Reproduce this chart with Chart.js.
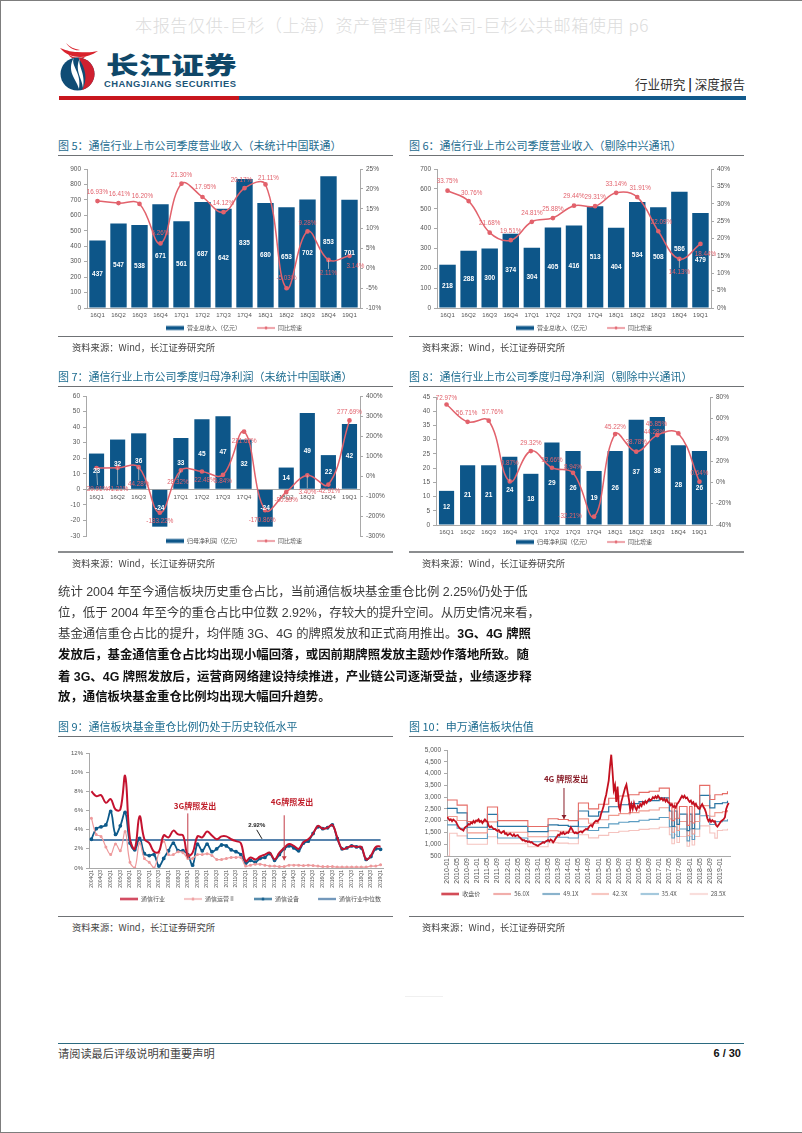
<!DOCTYPE html>
<html lang="zh">
<head>
<meta charset="utf-8">
<title>行业研究 深度报告 p6</title>
<script src="https://cdn.jsdelivr.net/npm/chart.js@4/dist/chart.umd.min.js"></script>
<style>
  html, body { margin: 0; padding: 0; background: #fff; }
  #page { position: relative; width: 802px; height: 1133px; overflow: hidden; font-family: "Noto Sans CJK SC", "Liberation Sans", sans-serif; }
  #page > * { position: absolute; }
  canvas { display: block; }
  .title { font-size: 11px; line-height: 14px; color: #1d6c90; white-space: nowrap; }
  .rule { height: 1px; background: #6f7275; }
  .rule2 { height: 2px; background: #8b8d8f; }
  .src { font-size: 9.3px; line-height: 14px; color: #444; white-space: nowrap; }
  .para { left: 58px; width: 457px; height: 21px; font-size: 12.4px; line-height: 21px; color: #3a3a3a; white-space: nowrap; text-align: justify; text-align-last: justify; font-family: "Liberation Sans", "Noto Sans CJK SC", sans-serif; }
  .para.end { text-align-last: left; }
  .para b { color: #111; }
</style>
</head>
<body>
<div id="page">
  <div style="left:0;top:0;width:802px;height:1px;background:#7d7d7d"></div>
  <div style="left:0;top:0;width:1px;height:1133px;background:#7d7d7d"></div>
  <div style="left:0;top:1132px;width:802px;height:1px;background:#7d7d7d"></div>

  <div style="left:135px;top:14px;width:516px;font-size:17.2px;line-height:22px;color:#dcdcdc;white-space:nowrap;font-weight:300;letter-spacing:0.47px">本报告仅供-巨杉（上海）资产管理有限公司-巨杉公共邮箱使用 p6</div>

  <svg style="left:58px;top:42px" width="42" height="50" viewBox="0 0 42 50">
    <path d="M2 6 C10 9 14 10 19 10 C26 10 32 11 40 9 C34 13 28 15 22 15 C14 15 7 12 2 6Z" fill="#d9232d"/>
    <path d="M8 1 C12 5 16 7 22 8 C18 9 12 7 8 1Z" fill="#d9232d"/>
    <path d="M10 12 C14 16 22 17 28 14 C24 19 14 19 10 12Z" fill="#d9232d"/>
    <ellipse cx="19.5" cy="32" rx="17" ry="16.5" fill="#0f4c75"/>
    <path d="M20 15.5 C31 16 36.5 24 36.5 32 C36.5 40 31 46 24 48 C30 38 28 26 20 15.5Z" fill="#cf2030"/>
    <path d="M16 15 C12 24 24 30 21 47 C18 36 8 30 16 15Z" fill="#fff"/>
    <path d="M22 16 C19 24 28 30 25 46 C24 36 16 28 22 16Z" fill="#fff"/>
  </svg>
  <div style="left:106px;top:50px;font-size:24px;line-height:28px;font-weight:900;color:#0f4768;white-space:nowrap;transform:scaleX(1.36);transform-origin:left top;font-family:'Noto Sans CJK SC'">长江证券</div>
  <div style="left:104px;top:79px;width:134px;font-size:9.4px;line-height:9px;font-weight:700;color:#1c5578;white-space:nowrap;letter-spacing:0.5px;font-family:'Liberation Sans'">CHANGJIANG SECURITIES</div>
  <div style="left:635px;top:75px;font-size:12.6px;line-height:18px;color:#333;white-space:nowrap">行业研究 <span style="font-weight:700;color:#111">|</span> 深度报告</div>
  <div style="left:59px;top:96px;width:180px;height:4px;background:#c8161d"></div>
  <div style="left:239px;top:96px;width:507px;height:4px;background:#125a8c"></div>

  <!-- ── Figure 5 / 6 ── -->
  <div class="title" style="left:58px;top:138px">图 5：通信行业上市公司季度营业收入（未统计中国联通）</div>
  <div class="rule" style="left:58px;top:155px;width:335px"></div>
  <canvas id="chart-5" style="left:52px;top:161px"></canvas>
  <div class="rule" style="left:58px;top:336px;width:335px"></div>
  <div class="src" style="left:72px;top:340px">资料来源：Wind，长江证券研究所</div>

  <div class="title" style="left:409px;top:138px">图 6：通信行业上市公司季度营业收入（剔除中兴通讯）</div>
  <div class="rule" style="left:409px;top:155px;width:335px"></div>
  <canvas id="chart-6" style="left:410px;top:161px"></canvas>
  <div class="rule" style="left:409px;top:336px;width:335px"></div>
  <div class="src" style="left:422px;top:340px">资料来源：Wind，长江证券研究所</div>

  <!-- ── Figure 7 / 8 ── -->
  <div class="title" style="left:58px;top:369px">图 7：通信行业上市公司季度归母净利润（未统计中国联通）</div>
  <div class="rule" style="left:58px;top:386px;width:335px"></div>
  <canvas id="chart-7" style="left:52px;top:388px"></canvas>
  <div class="rule2" style="left:58px;top:551px;width:335px"></div>
  <div class="src" style="left:72px;top:556px">资料来源：Wind，长江证券研究所</div>

  <div class="title" style="left:409px;top:369px">图 8：通信行业上市公司季度归母净利润（剔除中兴通讯）</div>
  <div class="rule" style="left:409px;top:386px;width:335px"></div>
  <canvas id="chart-8" style="left:410px;top:389px"></canvas>
  <div class="rule2" style="left:409px;top:551px;width:335px"></div>
  <div class="src" style="left:422px;top:556px">资料来源：Wind，长江证券研究所</div>

  <!-- ── Texte ── -->
  <div class="para" style="top:582px">统计 2004 年至今通信板块历史重仓占比，当前通信板块基金重仓比例 2.25%仍处于低</div>
  <div class="para" style="top:603px">位，低于 2004 年至今的重仓占比中位数 2.92%，存较大的提升空间。从历史情况来看，</div>
  <div class="para" style="top:624px">基金通信重仓占比的提升，均伴随 3G、4G 的牌照发放和正式商用推出。<b>3G、4G 牌照</b></div>
  <div class="para" style="top:645px"><b>发放后，基金通信重仓占比均出现小幅回落，或因前期牌照发放主题炒作落地所致。随</b></div>
  <div class="para" style="top:667px"><b>着 3G、4G 牌照发放后，运营商网络建设持续推进，产业链公司逐渐受益，业绩逐步释</b></div>
  <div class="para end" style="top:687px"><b>放，通信板块基金重仓比例均出现大幅回升趋势。</b></div>

  <!-- ── Figure 9 / 10 ── -->
  <div class="title" style="left:58px;top:719px">图 9：通信板块基金重仓比例仍处于历史较低水平</div>
  <div class="rule" style="left:58px;top:736px;width:335px"></div>
  <canvas id="chart-9" style="left:62px;top:745px"></canvas>
  <div class="rule" style="left:58px;top:916px;width:335px"></div>
  <div class="src" style="left:72px;top:920px">资料来源：Wind，长江证券研究所</div>

  <div class="title" style="left:409px;top:719px">图 10：申万通信板块估值</div>
  <div class="rule" style="left:409px;top:736px;width:335px"></div>
  <canvas id="chart-10" style="left:410px;top:742px"></canvas>
  <div class="rule" style="left:409px;top:916px;width:335px"></div>
  <div class="src" style="left:422px;top:920px">资料来源：Wind，长江证券研究所</div>

  <!-- ── Pied de page ── -->
  <div style="left:405px;top:996px;width:38px;height:1px;background:#f0f0f0"></div>
  <div style="left:58px;top:1043px;width:686px;height:1px;background:#2b6a80"></div>
  <div style="left:58px;top:1046px;font-size:11.2px;line-height:15px;color:#444;white-space:nowrap">请阅读最后评级说明和重要声明</div>
  <div style="left:700px;top:1046px;width:41px;text-align:right;font-size:11px;line-height:15px;font-weight:700;color:#111;white-space:nowrap;font-family:'Liberation Sans'">6 / 30</div>
</div>

<script>
// ── Données ───────────────────────────────────────────────────────────
const quarters = ['16Q1', '16Q2', '16Q3', '16Q4', '17Q1', '17Q2', '17Q3', '17Q4', '18Q1', '18Q2', '18Q3', '18Q4', '19Q1']

const revenue5 = [437, 547, 538, 671, 561, 687, 642, 835, 680, 653, 702, 853, 701]
const growth5  = [16.93, 16.41, 16.20, 6.26, 21.30, 17.95, 14.12, 20.17, 21.11, -5.03, 9.28, 2.11, 3.14]

const revenue6 = [218, 288, 300, 374, 304, 405, 416, 513, 404, 534, 508, 586, 479]
const growth6  = [33.75, 30.76, 21.68, 19.51, 24.81, 25.88, 29.44, 29.31, 33.14, 31.91, 22.09, 14.13, 18.44]

const profit7 = [23, 32, 36, -24, 33, 45, 47, 32, -24, 14, 49, 22, 42]
const growth7 = [39.91, 41.21, 44.28, -183.22, 28.32, 22.48, 5.84, 221.62, -170.86, -80.89, 3.40, -42.91, 277.69]

const profit8 = [12, 21, 21, 24, 18, 29, 26, 19, 26, 37, 38, 28, 26]
const growth8 = [72.97, 56.71, 57.76, 0.87, 29.32, 13.66, 8.94, -32.21, 45.22, 28.78, 44.28, 45.85, 0.64]

// Figure 9, 2004Q1 → 2019Q1
const holdQuarters = [
    '2004Q1', '2004Q2', '2004Q3', '2004Q4', '2005Q1', '2005Q2', '2005Q3', '2005Q4',
    '2006Q1', '2006Q2', '2006Q3', '2006Q4', '2007Q1', '2007Q2', '2007Q3', '2007Q4',
    '2008Q1', '2008Q2', '2008Q3', '2008Q4', '2009Q1', '2009Q2', '2009Q3', '2009Q4',
    '2010Q1', '2010Q2', '2010Q3', '2010Q4', '2011Q1', '2011Q2', '2011Q3', '2011Q4',
    '2012Q1', '2012Q2', '2012Q3', '2012Q4', '2013Q1', '2013Q2', '2013Q3', '2013Q4',
    '2014Q1', '2014Q2', '2014Q3', '2014Q4', '2015Q1', '2015Q2', '2015Q3', '2015Q4',
    '2016Q1', '2016Q2', '2016Q3', '2016Q4', '2017Q1', '2017Q2', '2017Q3', '2017Q4',
    '2018Q1', '2018Q2', '2018Q3', '2018Q4', '2019Q1',
]
const holdIndustry = [
    8.0, 7.5, 7.6, 6.8, 7.2, 6.1, 6.1, 9.6,
    3.0, 2.0, 5.4, 3.0, 2.6, 1.7, 1.7, 3.4,
    3.2, 3.9, 3.5, 3.4, 1.3, 1.6, 3.3, 3.2,
    3.8, 3.4, 3.0, 3.3, 3.3, 3.0, 2.8, 2.6,
    0.7, 1.1, 0.9, 1.2, 1.4, 1.6, 0.9, 1.6,
    2.1, 2.5, 2.3, 2.0, 2.7, 3.0, 3.6, 4.4,
    4.1, 4.2, 4.5, 3.2, 2.0, 2.1, 2.3, 2.2,
    2.2, 0.9, 1.3, 2.2, 2.25,
]
const holdOperator = [
    5.2, 3.5, 3.3, 2.2, 1.4, 2.5, 1.8, 3.8,
    0.6, 0.0, 2.6, 1.0, 0.6, 0.0, 1.6, 2.8,
    1.4, 1.4, 1.7, 1.6, 1.0, 1.0, 1.4, 1.4,
    1.5, 1.3, 0.9, 0.9, 1.0, 1.1, 1.1, 1.1,
    0.2, 0.3, 0.4, 0.4, 0.3, 0.2, 0.2, 0.15,
    0.15, 0.3, 0.3, 0.3, 0.25, 0.3, 0.25, 0.2,
    0.15, 0.15, 0.15, 0.1, 0.1, 0.1, 0.1, 0.1,
    0.1, 0.1, 0.2, 0.2, 0.35,
]
const holdDevice = [
    3.0, 4.1, 4.3, 4.5, 5.9, 3.5, 4.4, 5.8,
    2.6, 1.9, 3.1, 1.5, 1.3, 1.4, 0.2, 1.0,
    1.8, 2.6, 1.8, 1.8, 1.4, 0.3, 2.5, 1.8,
    2.5, 1.7, 2.0, 2.4, 2.3, 1.9, 1.7, 1.4,
    0.5, 0.8, 0.6, 1.0, 1.1, 1.5, 0.8, 1.4,
    2.0, 2.3, 2.1, 1.8, 2.6, 2.8, 3.6, 4.3,
    4.1, 4.2, 4.5, 3.1, 2.0, 2.1, 2.3, 2.2,
    2.1, 0.9, 1.2, 2.0, 1.95,
]
const holdMedian = holdQuarters.map(() => 2.92)

// Figure 10, une ligne = 4 mois. Cours : 2 points par mois, bandes PE : 1 point par mois
const valTicks = [
    '2010-01', '2010-05', '2010-09', '2011-01', '2011-05', '2011-09', '2012-01',
    '2012-05', '2012-09', '2013-01', '2013-05', '2013-09', '2014-01', '2014-05',
    '2014-09', '2015-01', '2015-05', '2015-09', '2016-01', '2016-05', '2016-09',
    '2017-01', '2017-05', '2017-09', '2018-01', '2018-05', '2018-09', '2019-01',
]
const valClose = [
    2150, 2100, 2020, 2060, 1980, 2050, 2000, 1960,
    1850, 1750, 1680, 1640, 1620, 1580, 1700, 1740,
    1780, 1850, 1830, 1920, 1880, 1990, 1920, 2010,
    2000, 2060, 1950, 1990, 1900, 1980, 2050, 1990,
    1950, 1780, 1720, 1760, 1700, 1640, 1650, 1590,
    1560, 1600, 1510, 1470, 1530, 1560, 1440, 1460,
    1380, 1420, 1460, 1400, 1350, 1420, 1340, 1370,
    1390, 1310, 1280, 1210, 1160, 1180, 1120, 1140,
    1100, 1120, 1070, 1090, 1040, 1000, 980, 950,
    930, 980, 1010, 1040, 1090, 1060, 1120, 1140,
    1180, 1120, 1200, 1160, 1080, 1150, 1250, 1320,
    1400, 1370, 1490, 1440, 1510, 1430, 1460, 1500,
    1480, 1600, 1720, 1640, 1520, 1470, 1500, 1460,
    1490, 1530, 1550, 1500, 1560, 1600, 1650, 1620,
    1700, 1780, 1820, 1750, 1880, 1950, 2000, 1960,
    2030, 2080, 2300, 2450, 2620, 2900, 3100, 3400,
    3700, 4300, 4800, 4100, 3300, 3500, 2800, 3450,
    2600, 2450, 2800, 3000, 3200, 3400, 3530, 3200,
    2900, 2450, 2700, 2500, 2750, 2550, 2450, 2620,
    2550, 2700, 2620, 2780, 2700, 2830, 2750, 2850,
    2920, 2850, 2900, 3000, 2950, 3030, 2960, 3060,
    2980, 2900, 2950, 2860, 2930, 2820, 2900, 2780,
    2750, 2650, 2700, 2580, 2620, 2550, 2700, 2760,
    2850, 2950, 3050, 2980, 3060, 2950, 2980, 2880,
    2800, 2850, 2720, 2780, 2650, 2720, 2600, 2520,
    2500, 2620, 2700, 2580, 2500, 2350, 2100, 1980,
    2050, 1950, 2020, 1960, 1980, 1800, 1750, 1820,
    1900, 1980, 2020, 2060, 2150, 2500, 2650, 2750,
]
const valPe560 = [
    2880, 2880, 2880, 2880, 2660, 2660, 2660, 2660, 1960, 1960, 1960, 1960, 1960, 1960, 1960, 1960,
    2580, 2580, 2580, 2580, 2000, 2000, 2000, 2000, 2000, 2000, 2000, 2000, 2000, 2000, 2000, 2000,
    1750, 1750, 1750, 1750, 1750, 1750, 1750, 1750, 2080, 2080, 2080, 2080, 2050, 2050, 2050, 2050,
    2000, 2000, 2000, 2000, 2750, 2750, 2750, 2750, 2500, 2500, 2500, 2500, 2700, 2700, 2700, 2700,
    2950, 2950, 2950, 2950, 3050, 3050, 3050, 3050, 3100, 3100, 3100, 3100, 3200, 3200, 3200, 3200,
    3250, 3250, 3250, 3250, 3380, 3380, 3380, 3380, 2750, 2000, 2750, 2100, 2600, 2600, 2600, 1800,
    2600, 1900, 2600, 2600, 3500, 3500, 3500, 3500, 2900, 2900, 3100, 3100, 3100, 3150, 3150, 3250,
]
const valPe491 = [
    2525, 2525, 2525, 2525, 2335, 2335, 2335, 2335, 1720, 1720, 1720, 1720, 1720, 1720, 1720, 1720,
    2265, 2265, 2265, 2265, 1755, 1755, 1755, 1755, 1755, 1755, 1755, 1755, 1755, 1755, 1755, 1755,
    1535, 1535, 1535, 1535, 1535, 1535, 1535, 1535, 1825, 1825, 1825, 1825, 1800, 1800, 1800, 1800,
    1755, 1755, 1755, 1755, 2410, 2410, 2410, 2410, 2190, 2190, 2190, 2190, 2370, 2370, 2370, 2370,
    2590, 2590, 2590, 2590, 2675, 2675, 2675, 2675, 2720, 2720, 2720, 2720, 2805, 2805, 2805, 2805,
    2850, 2850, 2850, 2850, 2965, 2965, 2965, 2965, 2410, 1755, 2410, 1840, 2280, 2280, 2280, 1580,
    2280, 1665, 2280, 2280, 3070, 3070, 3070, 3070, 2545, 2545, 2720, 2720, 2720, 2760, 2760, 2850,
]
const valPe423 = [
    2175, 2175, 2175, 2175, 2010, 2010, 2010, 2010, 1480, 1480, 1480, 1480, 1480, 1480, 1480, 1480,
    1950, 1950, 1950, 1950, 1510, 1510, 1510, 1510, 1510, 1510, 1510, 1510, 1510, 1510, 1510, 1510,
    1320, 1320, 1320, 1320, 1320, 1320, 1320, 1320, 1570, 1570, 1570, 1570, 1550, 1550, 1550, 1550,
    1510, 1510, 1510, 1510, 2075, 2075, 2075, 2075, 1890, 1890, 1890, 1890, 2040, 2040, 2040, 2040,
    2225, 2225, 2225, 2225, 2300, 2300, 2300, 2300, 2340, 2340, 2340, 2340, 2415, 2415, 2415, 2415,
    2455, 2455, 2455, 2455, 2550, 2550, 2550, 2550, 2075, 1510, 2075, 1585, 1965, 1965, 1965, 1360,
    1965, 1435, 1965, 1965, 2640, 2640, 2640, 2640, 2190, 2190, 2340, 2340, 2340, 2380, 2380, 2455,
]
const valPe354 = [
    1820, 1820, 1820, 1820, 1680, 1680, 1680, 1680, 1240, 1240, 1240, 1240, 1240, 1240, 1240, 1240,
    1630, 1630, 1630, 1630, 1265, 1265, 1265, 1265, 1265, 1265, 1265, 1265, 1265, 1265, 1265, 1265,
    1105, 1105, 1105, 1105, 1105, 1105, 1105, 1105, 1315, 1315, 1315, 1315, 1295, 1295, 1295, 1295,
    1265, 1265, 1265, 1265, 1740, 1740, 1740, 1740, 1580, 1580, 1580, 1580, 1705, 1705, 1705, 1705,
    1865, 1865, 1865, 1865, 1930, 1930, 1930, 1930, 1960, 1960, 1960, 1960, 2020, 2020, 2020, 2020,
    2055, 2055, 2055, 2055, 2135, 2135, 2135, 2135, 1740, 1265, 1740, 1330, 1645, 1645, 1645, 1140,
    1645, 1200, 1645, 1645, 2210, 2210, 2210, 2210, 1835, 1835, 1960, 1960, 1960, 1990, 1990, 2055,
]
const valPe285 = [
    500, 1465, 1465, 1465, 1355, 1355, 1355, 1355, 1000, 1000, 1000, 1000, 1000, 1000, 1000, 1000,
    1315, 1315, 1315, 1315, 1020, 1020, 1020, 1020, 1020, 1020, 1020, 1020, 1020, 1020, 1020, 1020,
    890, 890, 890, 890, 890, 890, 890, 890, 1060, 1060, 1060, 1060, 1045, 1045, 1045, 1045,
    1020, 1020, 1020, 1020, 1400, 1400, 1400, 1400, 1270, 1270, 1270, 1270, 1375, 1375, 1375, 1375,
    1500, 1500, 1500, 1500, 1550, 1550, 1550, 1550, 1580, 1580, 1580, 1580, 1630, 1630, 1630, 1630,
    1655, 1655, 1655, 1655, 1720, 1720, 1720, 1720, 1400, 1020, 1400, 1070, 1325, 1325, 1325, 915,
    1325, 965, 1325, 1325, 1780, 1780, 1780, 1780, 1475, 1475, 1260, 1580, 1580, 1605, 1605, 1655,
]

// Décalage des étiquettes de croissance par rapport au point [dx, dy]
const shift5 = [[0, -9], [1, -9], [3, -8], [0, -10], [0, -8], [3, -10], [0, -9], [-3, -8], [3, -6], [0, -10], [0, -8], [0, 13], [6, 10]]
const shift6 = [[0, -9], [3, -8], [0, -9], [0, -9], [0, -9], [0, -9], [0, -9], [0, -9], [0, -9], [3, -9], [3, -9], [0, 13], [5, 10]]
const shift7 = [[1, 21], [0, 21], [0, 17], [0, 9], [-3, 12], [3, 9], [0, 6], [0, 10], [-3, 10], [0, 8], [0, 17], [0, 7], [0, -8]]
const shift8 = [[0, -6], [-1, -9], [4, -8], [0, -18], [0, -8], [0, -8], [0, -6], [-24, 0], [0, -7], [0, -9], [-3, -3], [-22, -9], [0, -8]]

// ── Couleurs communes ─────────────────────────────────────────────────
const blue     = '#0d5689'
const lineRed  = '#e2626c'
const axisGrey = '#a9a9a9'
const tick     = { color: '#555', font: { family: 'Liberation Sans', size: 6.5 }, padding: 3 }
const xTick    = { color: '#555', font: { family: 'Liberation Sans', size: 6 }, padding: 4 }
const cjkFont  = { family: 'Noto Sans CJK SC', size: 6, lineHeight: 1.667 }

Chart.defaults.animation = false
Chart.defaults.responsive = false
Chart.defaults.devicePixelRatio = 1

// Icône de légende : un blanc à gauche sert d'espace entre les items
function legendIcon(kind, color, gap, lw, dot) {
    const c = document.createElement('canvas')
    c.width = 18 + gap
    c.height = 7
    const g = c.getContext('2d')
    if (kind === 'bar') {
        g.fillStyle = color
        g.fillRect(gap, 1.5, 18, 4)
    } else {
        g.strokeStyle = color
        g.lineWidth = lw
        g.beginPath()
        g.moveTo(gap, 3.5)
        g.lineTo(gap + 18, 3.5)
        g.stroke()
        if (dot) {
            g.fillStyle = color
            g.beginPath()
            g.arc(gap + 9, 3.5, dot, 0, Math.PI * 2)
            g.fill()
        }
    }
    return c
}

function legendOptions(icons, gap) {
    return {
        position: 'bottom',
        labels: {
            usePointStyle: true,
            pointStyleWidth: 18 + gap,
            padding: 2,
            color: '#555',
            font: cjkFont,
            generateLabels: (chart) => Chart.defaults.plugins.legend.labels.generateLabels(chart)
                .map((item, i) => ({ ...item, pointStyle: icons[i] })),
        },
    }
}

// Étiquettes : valeur des barres en blanc, croissance en rouge
const valueLabels = {
    id: 'valueLabels',
    afterDatasetsDraw(chart, args, opts) {
        if (!opts.shifts) return
        const ctx = chart.ctx
        const bars = chart.getDatasetMeta(1).data
        const points = chart.getDatasetMeta(0).data
        ctx.save()
        ctx.textAlign = 'center'
        ctx.textBaseline = 'middle'
        ctx.font = 'bold 6.5px "Liberation Sans"'
        ctx.fillStyle = '#fff'
        bars.forEach((bar, i) => {
            const v = chart.data.datasets[1].data[i]
            ctx.fillText(v, bar.x, (bar.y + bar.base) / 2)
        })
        ctx.font = '6.3px "Liberation Sans"'
        points.forEach((pt, i) => {
            const [dx, dy] = opts.shifts[i]
            if (Math.abs(dy) > 11) {
                ctx.strokeStyle = 'rgba(205,205,205,0.9)'
                ctx.lineWidth = 0.8
                ctx.beginPath()
                ctx.moveTo(pt.x, pt.y)
                ctx.lineTo(pt.x + dx, pt.y + dy - Math.sign(dy) * 4)
                ctx.stroke()
            }
            ctx.fillStyle = lineRed
            ctx.fillText(chart.data.datasets[0].data[i].toFixed(2) + '%', pt.x + dx, pt.y + dy)
        })
        ctx.restore()
    },
}

// Annotations (position en coordonnées de données)
const notes = {
    id: 'notes',
    afterDatasetsDraw(chart, args, opts) {
        const { x: sx, y: sy } = chart.scales
        const ctx = chart.ctx
        ctx.save()
        ;(opts.arrows || []).forEach(a => {
            const x = sx.getPixelForValue(a.x)
            const y1 = sy.getPixelForValue(a.from)
            const y2 = sy.getPixelForValue(a.to)
            ctx.strokeStyle = ctx.fillStyle = a.color
            ctx.lineWidth = 1
            ctx.beginPath()
            ctx.moveTo(x, y1)
            ctx.lineTo(x, y2)
            ctx.stroke()
            ctx.beginPath()
            ctx.moveTo(x - 2.5, y2 - 4)
            ctx.lineTo(x + 2.5, y2 - 4)
            ctx.lineTo(x, y2)
            ctx.fill()
        })
        ;(opts.segments || []).forEach(s => {
            ctx.strokeStyle = s.color
            ctx.lineWidth = 1
            ctx.beginPath()
            ctx.moveTo(sx.getPixelForValue(s.x1), sy.getPixelForValue(s.y1))
            ctx.lineTo(sx.getPixelForValue(s.x2), sy.getPixelForValue(s.y2))
            ctx.stroke()
        })
        ctx.textAlign = 'center'
        ctx.textBaseline = 'middle'
        ;(opts.texts || []).forEach(t => {
            ctx.font = t.font
            ctx.fillStyle = t.color
            ctx.fillText(t.text, sx.getPixelForValue(t.x), sy.getPixelForValue(t.y))
        })
        ctx.restore()
    },
}

const axisGrid = { display: true, drawOnChartArea: false, drawTicks: true, tickLength: 3, color: axisGrey }
const axisLine = { display: true, color: axisGrey }

// Axe vide à droite : réserve la marge sans décentrer la légende
const rightMargin = (width) => ({
    position: 'right',
    ticks: { display: false },
    grid: { display: false },
    border: { display: false },
    afterFit: (s) => { s.width = width },
})

// Barres + courbe de croissance (figures 5 à 8)
function barLineChart(id, g, a) {
    const el = document.getElementById(id)
    el.width = g.width
    el.height = g.height
    return new Chart(el, {
        plugins: [valueLabels],
        data: {
            labels: quarters,
            datasets: [
                {
                    type: 'line',
                    label: '同比增速',
                    data: a.growth,
                    yAxisID: 'y2',
                    borderColor: lineRed,
                    backgroundColor: lineRed,
                    borderWidth: 1.5,
                    pointRadius: 1.6,
                    tension: 0.4,
                    order: 1,
                },
                {
                    type: 'bar',
                    label: a.barLabel,
                    data: a.bars,
                    backgroundColor: blue,
                    barPercentage: g.barPct,
                    categoryPercentage: 1,
                    order: 2,
                },
            ],
        },
        options: {
            layout: { padding: { top: 8 } },
            plugins: {
                tooltip: { enabled: false },
                legend: {
                    ...legendOptions([legendIcon('line', lineRed, 14, 1.2, 1.4), legendIcon('bar', blue, 14)], 14),
                    reverse: true,
                },
                valueLabels: { shifts: a.shifts },
            },
            scales: {
                x: {
                    position: a.zeroAxis ? { y: 0 } : 'bottom',
                    z: 1,
                    ticks: { ...xTick, maxRotation: 0, autoSkip: false },
                    grid: { display: false, drawTicks: false },
                    border: axisLine,
                    afterFit: (s) => { if (!a.zeroAxis) s.height = g.xHeight },
                },
                y: {
                    min: a.y[0], max: a.y[1],
                    ticks: { ...tick, stepSize: a.y[2] },
                    grid: axisGrid,
                    border: axisLine,
                    afterFit: (s) => { s.width = g.left },
                },
                y2: {
                    position: 'right',
                    min: a.y2[0], max: a.y2[1],
                    ticks: { ...tick, stepSize: a.y2[2], callback: v => v + '%' },
                    grid: axisGrid,
                    border: axisLine,
                    afterFit: (s) => { s.width = g.right },
                },
            },
        },
    })
}

barLineChart('chart-5', { width: 350, height: 180, left: 35, right: 42, xHeight: 15, barPct: 0.78 },
    { growth: growth5, bars: revenue5, barLabel: '营业总收入（亿元）', shifts: shift5, y: [0, 900, 100], y2: [-10, 25, 5] })
barLineChart('chart-6', { width: 334, height: 180, left: 27, right: 33, xHeight: 15, barPct: 0.78 },
    { growth: growth6, bars: revenue6, barLabel: '营业总收入（亿元）', shifts: shift6, y: [0, 700, 100], y2: [0, 40, 5] })
barLineChart('chart-7', { width: 350, height: 166, left: 34, right: 42, barPct: 0.72 },
    { growth: growth7, bars: profit7, barLabel: '归母净利润（亿元）', shifts: shift7, y: [-30, 60, 10], y2: [-300, 400, 100], zeroAxis: true })
barLineChart('chart-8', { width: 334, height: 166, left: 26, right: 34, xHeight: 12, barPct: 0.72 },
    { growth: growth8, bars: profit8, barLabel: '归母净利润（亿元）', shifts: shift8, y: [0, 45, 5], y2: [-40, 80, 20] })

// ── Figure 9 ──────────────────────────────────────────────────────────
const el9 = document.getElementById('chart-9')
el9.width = 360
el9.height = 167
new Chart(el9, {
    type: 'line',
    plugins: [notes],
    data: {
        labels: holdQuarters,
        datasets: [
            { label: '通信行业', data: holdIndustry, borderColor: '#c4122f', backgroundColor: '#c4122f', borderWidth: 2, pointRadius: 0, tension: 0.4 },
            { label: '通信运营Ⅱ', data: holdOperator, borderColor: '#ee9a9c', backgroundColor: '#ee9a9c', borderWidth: 1.2, pointRadius: 0.9, tension: 0.4 },
            { label: '通信设备', data: holdDevice, borderColor: '#0d5a8a', backgroundColor: '#0d5a8a', borderWidth: 1.8, pointRadius: 1, tension: 0.4 },
            { label: '通信行业中位数', data: holdMedian, borderColor: '#1f5a92', backgroundColor: '#1f5a92', borderWidth: 1.5, pointRadius: 0 },
        ],
    },
    options: {
        layout: { padding: { top: 8 } },
        plugins: {
            tooltip: { enabled: false },
            legend: legendOptions([
                legendIcon('line', '#c4122f', 17, 2),
                legendIcon('line', '#ee9a9c', 17, 1.2, 1.5),
                legendIcon('line', '#0d5a8a', 17, 1.8, 1.6),
                legendIcon('line', '#1f5a92', 17, 1.5),
            ], 17),
            notes: {
                arrows: [
                    { x: 20, from: 5.7, to: 1.0, color: '#c23a46' },
                    { x: 40, from: 5.5, to: 0.8, color: '#c23a46' },
                ],
                segments: [{ x1: 34.3, y1: 3.98, x2: 35.4, y2: 3.04, color: '#222' }],
                texts: [
                    { x: 21.5, y: 6.45, text: '3G牌照发出', font: 'bold 8px "Noto Sans CJK SC"', color: '#c0202c' },
                    { x: 41.6, y: 6.9, text: '4G牌照发出', font: 'bold 8px "Noto Sans CJK SC"', color: '#c0202c' },
                    { x: 34.3, y: 4.5, text: '2.92%', font: 'bold 6px "Liberation Sans"', color: '#222' },
                ],
            },
        },
        scales: {
            x: {
                offset: true,
                ticks: {
                    color: '#555',
                    font: { family: 'Liberation Sans', size: 5 },
                    padding: 2,
                    autoSkip: false,
                    minRotation: 90,
                    maxRotation: 90,
                    callback(v, i) { return i % 2 === 0 ? this.getLabelForValue(v) : '' },
                },
                grid: { display: false, drawTicks: false },
                border: axisLine,
                afterFit: (s) => { s.height = 26 },
            },
            y: {
                min: 0, max: 12,
                ticks: { ...tick, stepSize: 2, font: { family: 'Liberation Sans', size: 6 }, callback: v => v + '%' },
                grid: axisGrid,
                border: axisLine,
                afterFit: (s) => { s.width = 27 },
            },
            pad: rightMargin(39),
        },
    },
})

// ── Figure 10 ─────────────────────────────────────────────────────────
const asMonths = (arr) => arr.map((y, i) => ({ x: i, y }))
const el10 = document.getElementById('chart-10')
el10.width = 336
el10.height = 165
new Chart(el10, {
    type: 'line',
    plugins: [notes],
    data: {
        datasets: [
            { label: '收盘价', data: valClose.map((y, i) => ({ x: i / 2, y })), borderColor: '#c4101f', backgroundColor: '#c4101f', borderWidth: 1.8, pointRadius: 0, order: 1 },
            { label: '56.0X', data: asMonths(valPe560), borderColor: '#e56c66', borderWidth: 1.1, pointRadius: 0, stepped: true, order: 2 },
            { label: '49.1X', data: asMonths(valPe491), borderColor: '#2b76a3', borderWidth: 1.2, pointRadius: 0, stepped: true, order: 3 },
            { label: '42.3X', data: asMonths(valPe423), borderColor: '#f09a8e', borderWidth: 1.1, pointRadius: 0, stepped: true, order: 4 },
            { label: '35.4X', data: asMonths(valPe354), borderColor: '#5c9dc2', borderWidth: 1.1, pointRadius: 0, stepped: true, order: 5 },
            { label: '28.5X', data: asMonths(valPe285), borderColor: '#f5c3bf', borderWidth: 1.1, pointRadius: 0, stepped: true, order: 6 },
        ],
    },
    options: {
        layout: { padding: { top: 8 } },
        plugins: {
            tooltip: { enabled: false },
            legend: legendOptions([
                legendIcon('line', '#c4101f', 11, 2),
                legendIcon('line', '#e56c66', 11, 1.2),
                legendIcon('line', '#2b76a3', 11, 1.2),
                legendIcon('line', '#f09a8e', 11, 1.2),
                legendIcon('line', '#5c9dc2', 11, 1.2),
                legendIcon('line', '#f5c3bf', 11, 1.2),
            ], 11),
            notes: {
                arrows: [{ x: 46.3, from: 3387, to: 2070, color: '#8a1f2a' }],
                texts: [{ x: 47.1, y: 3770, text: '4G 牌照发出', font: 'bold 8px "Noto Sans CJK SC"', color: '#8a1f2a' }],
            },
        },
        scales: {
            x: {
                type: 'linear',
                min: 0, max: 112,
                afterBuildTicks: (s) => { s.ticks = valTicks.map((_, i) => ({ value: i * 4 })) },
                ticks: {
                    color: '#555',
                    font: { family: 'Liberation Sans', size: 7 },
                    padding: 2,
                    autoSkip: false,
                    minRotation: 90,
                    maxRotation: 90,
                    callback: v => valTicks[v / 4],
                },
                grid: { display: false, drawTicks: false },
                border: axisLine,
                afterFit: (s) => { s.height = 33 },
            },
            y: {
                min: 500, max: 5000,
                ticks: { ...tick, stepSize: 500, autoSkip: false, callback: v => v.toLocaleString('en-US') },
                grid: axisGrid,
                border: axisLine,
                afterFit: (s) => { s.width = 37 },
            },
            pad: rightMargin(16),
        },
    },
})
</script>
</body>
</html>
